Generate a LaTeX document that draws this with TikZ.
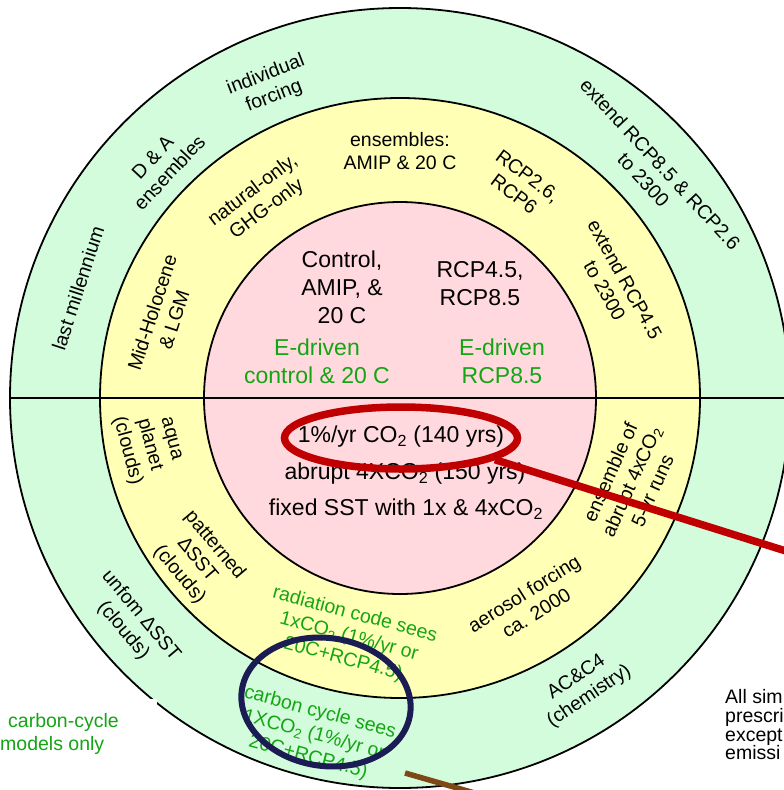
\documentclass[tikz,border=0pt]{standalone}
\usepackage{fontspec}
\setmainfont{Liberation Sans}
\usetikzlibrary{shapes.geometric}
\definecolor{ringgreen}{RGB}{210,252,220}
\definecolor{ringyellow}{RGB}{255,255,182}
\definecolor{ringpink}{RGB}{255,217,221}
\definecolor{tgreen}{RGB}{20,165,20}
\definecolor{markred}{RGB}{192,0,0}
\definecolor{marknavy}{RGB}{28,28,84}
\definecolor{markbrown}{RGB}{125,72,22}
\tikzset{
  ringline/.style={draw=black, line width=1.8pt},
  pinktxt/.style={font=\fontsize{23}{28}\selectfont, align=center, inner sep=0pt},
  ringtxt/.style={font=\fontsize{19.5}{23}\selectfont, align=center, inner sep=0pt},
  sidetxt/.style={font=\fontsize{19.5}{23}\selectfont, inner sep=0pt, anchor=base west},
  notetxt/.style={font=\fontsize{19.5}{19}\selectfont, inner sep=0pt, anchor=base west},
  redmark/.style={draw=markred, line width=7.5pt},
  navymark/.style={draw=marknavy, line width=6pt},
  brownmark/.style={draw=markbrown, line width=5.5pt},
}
\begin{document}
\begin{tikzpicture}[x=1pt,y=-1pt]
\useasboundingbox (0,0) rectangle (784,790);
\clip (0,0) rectangle (784,790);
\fill[white] (0,0) rectangle (784,790);
\coordinate (O) at (400,398);
% rings
\draw[ringline, fill=ringgreen] (O) circle[radius=390pt];
\draw[ringline, fill=ringyellow] (O) circle[radius=300pt];
\draw[ringline, fill=ringpink] (O) circle[radius=196pt];
\coordinate (hl) at (10,398);
\coordinate (hr) at (790,398);
\draw[ringline] (hl) -- (hr);
% white patch bottom left
\fill[white] (0,699) rectangle (157,790);

% pink (inner) texts
\node[pinktxt] (ctrl) at (342,287) {Control,\\AMIP, \&\\20 C};
\node[pinktxt] (rcp) at (480,284) {RCP4.5,\\RCP8.5};
\node[pinktxt, text=tgreen] (edc) at (317,361) {E-driven\\control \& 20 C};
\node[pinktxt, text=tgreen] (edr) at (502,361) {E-driven\\RCP8.5};
\node[pinktxt] (onepct) at (401,437) {1\%/yr CO\textsubscript{2} (140 yrs)};
\node[pinktxt] (abrupt) at (405,474) {abrupt 4XCO\textsubscript{2} (150 yrs)};
\node[pinktxt] (fsst) at (406,509) {fixed SST with 1x \& 4xCO\textsubscript{2}};

% yellow ring, upper
\node[ringtxt] (ens) at (400,151) {ensembles:\\AMIP \& 20 C};
\node[ringtxt, rotate=37] (nat) at (260,200) {natural-only,\\GHG-only};
\node[ringtxt, rotate=72] (mid) at (163,316) {Mid-Holocene\\\& LGM};
\node[ringtxt, rotate=-37] (rcpsix) at (521,185) {RCP2.6,\\RCP6};
\node[ringtxt, rotate=-61] (extf) at (615,285) {extend RCP4.5\\to 2300};

% green ring, upper
\node[ringtxt, rotate=72] (lastm) at (78,288) {last millennium};
\node[ringtxt, rotate=47] (da) at (161,165) {D \& A\\ensembles};
\node[ringtxt, rotate=21] (indiv) at (270,86) {individual\\forcing};
\node[ringtxt, rotate=-47] (exte) at (652,172) {extend RCP8.5 \& RCP2.6\\to 2300};

% yellow ring, lower
\node[ringtxt, rotate=-75] (aqua) at (148,445) {aqua\\planet\\(clouds)};
\node[ringtxt, rotate=-50] (patt) at (197,560) {patterned\\ΔSST\\(clouds)};
\node[ringtxt, rotate=-15, text=tgreen] (rad) at (349,637) {radiation code sees\\1xCO\textsubscript{2} (1\%/yr or\\20C+RCP4.5)};
\node[ringtxt, rotate=32] (aero) at (530,603) {aerosol forcing\\ca. 2000};
\node[ringtxt, rotate=66] (ensab) at (633,482) {ensemble of\\abrupt 4xCO\textsubscript{2}\\5-yr runs};

% green ring, lower
\node[ringtxt, rotate=-50] (unif) at (132,623) {unfom ΔSST\\(clouds)};
\node[ringtxt, rotate=-15, text=tgreen] (cc) at (314,735) {carbon cycle sees\\1XCO\textsubscript{2} (1\%/yr or\\20C+RCP4.5)};
\node[ringtxt, rotate=34] (ac) at (583,687) {AC\&C4\\(chemistry)};

% side texts
\node[sidetxt, text=tgreen] (ccl) at (8,727) {carbon-cycle};
\node[sidetxt, text=tgreen] (mol) at (0,750) {models only};
\node[notetxt] (n1) at (725,703) {All sim};
\node[notetxt] (n2) at (725,722) {prescri};
\node[notetxt] (n3) at (725,741) {except};
\node[notetxt] (n4) at (725,759) {emissi};

% highlight marks
\node[redmark, ellipse, inner sep=0pt, minimum width=233pt, minimum height=62pt] (redring) at (401,438) {};
\coordinate (redend) at (805,557);
\draw[redmark] (redring.-13) -- (redend);
\node[navymark, ellipse, inner sep=0pt, minimum width=170pt, minimum height=128pt, rotate=-8] (navyring) at (326,702) {};
\coordinate (bstart) at (405,773);
\coordinate (bend) at (485,796);
\draw[brownmark] (bstart) -- (bend);
\end{tikzpicture}
\end{document}
